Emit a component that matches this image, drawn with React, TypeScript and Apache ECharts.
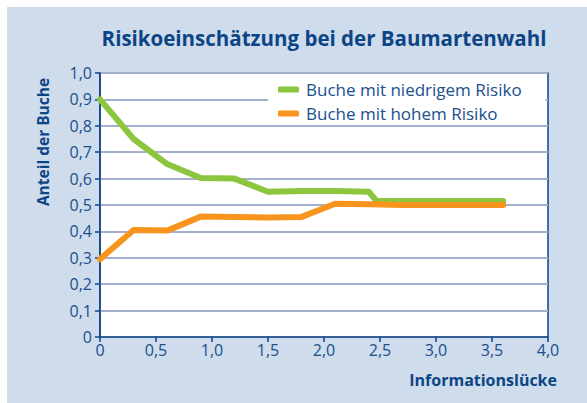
import React, { useEffect, useRef } from "react";
import * as echarts from "echarts";

const title = "Risikoeinschätzung bei der Baumartenwahl";
const yAxisName = "Anteil der Buche";
const xAxisName = "Informationslücke";
const seriesNames = ["Buche mit niedrigem Risiko", "Buche mit hohem Risiko"];

const lowRiskX = [0, 0.3, 0.6, 0.9, 1.2, 1.5, 1.8, 2.1, 2.4, 2.47, 2.7, 3.0, 3.3, 3.6];
const lowRiskY = [0.9, 0.75, 0.655, 0.602, 0.6, 0.55, 0.553, 0.553, 0.55, 0.515, 0.515, 0.515, 0.515, 0.515];
const highRiskX = [0, 0.3, 0.6, 0.9, 1.2, 1.5, 1.8, 2.1, 2.4, 2.7, 3.0, 3.3, 3.6];
const highRiskY = [0.295, 0.405, 0.403, 0.456, 0.455, 0.453, 0.455, 0.505, 0.503, 0.5, 0.5, 0.5, 0.5];

const GREEN = "#8cc63f";
const ORANGE = "#f7941d";
const BG = "#cfdcec";
const DARK = "#0c4585";
const TEXT = "#1a4f8c";
const GRIDLINE = "#a3afcc";
const FONT = "'Open Sans', 'Noto Sans', sans-serif";

const fmt = (v: number) => (v === 0 ? "0" : v.toFixed(1).replace(".", ","));

export default function App() {
  const ref = useRef<HTMLDivElement>(null);
  useEffect(() => {
    if (!ref.current) return;
    const chart = echarts.init(ref.current, undefined, { renderer: "svg" });
    chart.setOption({
      animation: false,
      backgroundColor: "transparent",
      textStyle: { fontFamily: FONT },
      graphic: [
        {
          type: "rect",
          z: -10,
          silent: true,
          shape: { x: 7, y: 7, width: 580, height: 396 },
          style: { fill: BG },
        },
        {
          type: "text",
          x: 324,
          y: 38,
          style: {
            text: title,
            fontFamily: FONT,
            fontWeight: "bold",
            fontSize: 20.5,
            fill: DARK,
            align: "center",
            verticalAlign: "middle",
          },
        },
        {
          type: "text",
          x: 43,
          y: 142,
          rotation: Math.PI / 2,
          style: {
            text: yAxisName,
            fontFamily: FONT,
            fontWeight: "bold",
            fontSize: 15.5,
            fill: DARK,
            align: "center",
            verticalAlign: "middle",
          },
        },
        {
          type: "text",
          x: 557,
          y: 380,
          style: {
            text: xAxisName,
            fontFamily: FONT,
            fontWeight: "bold",
            fontSize: 16,
            fill: DARK,
            align: "right",
            verticalAlign: "middle",
          },
        },
      ],
      grid: {
        left: 100,
        top: 73,
        width: 448,
        height: 264,
        show: true,
        backgroundColor: "#ffffff",
        borderColor: DARK,
        borderWidth: 1.5,
      },
      legend: {
        orient: "vertical",
        left: 268,
        top: 77,
        backgroundColor: "#ffffff",
        padding: [4, 24, 1, 10],
        itemGap: 7,
        itemWidth: 21,
        itemHeight: 6,
        icon: "roundRect",
        textStyle: { color: TEXT, fontSize: 17, fontFamily: FONT, padding: [0, 0, 0, 2] },
        data: seriesNames,
      },
      xAxis: {
        type: "value",
        min: 0,
        max: 4,
        interval: 0.5,
        axisLine: { show: true, lineStyle: { color: DARK, width: 1.5 } },
        axisTick: { show: true, length: 5, lineStyle: { color: DARK, width: 1.5 } },
        axisLabel: { color: TEXT, fontSize: 16, margin: 5, formatter: fmt, fontFamily: FONT },
        splitLine: { show: false },
      },
      yAxis: {
        type: "value",
        min: 0,
        max: 1,
        interval: 0.1,
        axisLine: { show: true, lineStyle: { color: DARK, width: 1.5 } },
        axisTick: { show: true, length: 5, lineStyle: { color: DARK, width: 1.5 } },
        axisLabel: { color: TEXT, fontSize: 16, margin: 8, formatter: fmt, fontFamily: FONT },
        splitLine: { show: true, lineStyle: { color: GRIDLINE, width: 2 } },
      },
      series: [
        {
          name: seriesNames[0],
          type: "line",
          data: lowRiskX.map((x, i) => [x, lowRiskY[i]]),
          showSymbol: false,
          symbol: "none",
          color: GREEN,
          lineStyle: { color: GREEN, width: 6, cap: "round", join: "round" },
          z: 3,
        },
        {
          name: seriesNames[1],
          type: "line",
          data: highRiskX.map((x, i) => [x, highRiskY[i]]),
          showSymbol: false,
          symbol: "none",
          color: ORANGE,
          lineStyle: { color: ORANGE, width: 6, cap: "round", join: "round" },
          z: 4,
        },
      ],
    });
    return () => chart.dispose();
  }, []);
  return (
    <div
      ref={ref}
      style={{ position: "absolute", left: 0, top: 0, width: 587, height: 403 }}
    />
  );
}
